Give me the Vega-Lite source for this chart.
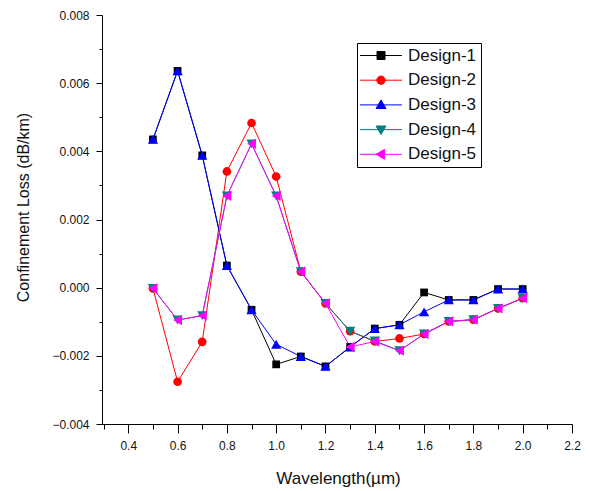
{
  "$schema": "https://vega.github.io/schema/vega-lite/v6.json",
  "width": 470,
  "height": 409,
  "autosize": "none",
  "padding": {"left": 102, "top": 15, "right": 18, "bottom": 67},
  "background": "white",
  "config": {
    "view": {"stroke": null},
    "font": "Liberation Sans",
    "axis": {
      "domainColor": "black",
      "domainWidth": 1,
      "tickColor": "black",
      "tickWidth": 1,
      "labelFont": "Liberation Sans",
      "labelFontSize": 12,
      "labelColor": "#111",
      "titleFont": "Liberation Sans",
      "titleFontSize": 16,
      "titleFontWeight": "normal",
      "titleColor": "#111",
      "grid": false
    }
  },
  "data": {
    "values": [
      {"x": 0.5, "y": 0.00435, "s": "Design-1"},
      {"x": 0.6, "y": 0.00636, "s": "Design-1"},
      {"x": 0.7, "y": 0.00388, "s": "Design-1"},
      {"x": 0.8, "y": 0.00065, "s": "Design-1"},
      {"x": 0.9, "y": -0.00065, "s": "Design-1"},
      {"x": 1.0, "y": -0.00225, "s": "Design-1"},
      {"x": 1.1, "y": -0.00202, "s": "Design-1"},
      {"x": 1.2, "y": -0.00231, "s": "Design-1"},
      {"x": 1.3, "y": -0.00174, "s": "Design-1"},
      {"x": 1.4, "y": -0.0012, "s": "Design-1"},
      {"x": 1.5, "y": -0.00109, "s": "Design-1"},
      {"x": 1.6, "y": -0.00014, "s": "Design-1"},
      {"x": 1.7, "y": -0.00036, "s": "Design-1"},
      {"x": 1.8, "y": -0.00036, "s": "Design-1"},
      {"x": 1.9, "y": -0.00004, "s": "Design-1"},
      {"x": 2.0, "y": -0.00004, "s": "Design-1"},

      {"x": 0.5, "y": -0.00002, "s": "Design-2"},
      {"x": 0.6, "y": -0.00276, "s": "Design-2"},
      {"x": 0.7, "y": -0.00159, "s": "Design-2"},
      {"x": 0.8, "y": 0.00341, "s": "Design-2"},
      {"x": 0.9, "y": 0.00483, "s": "Design-2"},
      {"x": 1.0, "y": 0.00326, "s": "Design-2"},
      {"x": 1.1, "y": 0.00047, "s": "Design-2"},
      {"x": 1.2, "y": -0.00046, "s": "Design-2"},
      {"x": 1.3, "y": -0.00128, "s": "Design-2"},
      {"x": 1.4, "y": -0.00158, "s": "Design-2"},
      {"x": 1.5, "y": -0.00149, "s": "Design-2"},
      {"x": 1.6, "y": -0.00136, "s": "Design-2"},
      {"x": 1.7, "y": -0.00099, "s": "Design-2"},
      {"x": 1.8, "y": -0.00094, "s": "Design-2"},
      {"x": 1.9, "y": -0.00061, "s": "Design-2"},
      {"x": 2.0, "y": -0.00031, "s": "Design-2"},

      {"x": 0.5, "y": 0.00435, "s": "Design-3"},
      {"x": 0.6, "y": 0.00636, "s": "Design-3"},
      {"x": 0.7, "y": 0.00388, "s": "Design-3"},
      {"x": 0.8, "y": 0.00065, "s": "Design-3"},
      {"x": 0.9, "y": -0.00065, "s": "Design-3"},
      {"x": 1.0, "y": -0.00166, "s": "Design-3"},
      {"x": 1.1, "y": -0.00202, "s": "Design-3"},
      {"x": 1.2, "y": -0.00231, "s": "Design-3"},
      {"x": 1.3, "y": -0.00174, "s": "Design-3"},
      {"x": 1.4, "y": -0.0012, "s": "Design-3"},
      {"x": 1.5, "y": -0.00109, "s": "Design-3"},
      {"x": 1.6, "y": -0.00071, "s": "Design-3"},
      {"x": 1.7, "y": -0.00036, "s": "Design-3"},
      {"x": 1.8, "y": -0.00036, "s": "Design-3"},
      {"x": 1.9, "y": -0.00004, "s": "Design-3"},
      {"x": 2.0, "y": -0.00004, "s": "Design-3"},

      {"x": 0.5, "y": -0.00002, "s": "Design-4"},
      {"x": 0.6, "y": -0.00095, "s": "Design-4"},
      {"x": 0.7, "y": -0.00082, "s": "Design-4"},
      {"x": 0.8, "y": 0.00269, "s": "Design-4"},
      {"x": 0.9, "y": 0.00422, "s": "Design-4"},
      {"x": 1.0, "y": 0.00269, "s": "Design-4"},
      {"x": 1.1, "y": 0.00047, "s": "Design-4"},
      {"x": 1.2, "y": -0.00046, "s": "Design-4"},
      {"x": 1.3, "y": -0.00128, "s": "Design-4"},
      {"x": 1.4, "y": -0.00156, "s": "Design-4"},
      {"x": 1.5, "y": -0.00185, "s": "Design-4"},
      {"x": 1.6, "y": -0.00136, "s": "Design-4"},
      {"x": 1.7, "y": -0.00099, "s": "Design-4"},
      {"x": 1.8, "y": -0.00094, "s": "Design-4"},
      {"x": 1.9, "y": -0.00061, "s": "Design-4"},
      {"x": 2.0, "y": -0.00031, "s": "Design-4"},

      {"x": 0.5, "y": -0.00002, "s": "Design-5"},
      {"x": 0.6, "y": -0.00095, "s": "Design-5"},
      {"x": 0.7, "y": -0.00082, "s": "Design-5"},
      {"x": 0.8, "y": 0.00269, "s": "Design-5"},
      {"x": 0.9, "y": 0.00422, "s": "Design-5"},
      {"x": 1.0, "y": 0.00269, "s": "Design-5"},
      {"x": 1.1, "y": 0.00047, "s": "Design-5"},
      {"x": 1.2, "y": -0.00046, "s": "Design-5"},
      {"x": 1.3, "y": -0.00174, "s": "Design-5"},
      {"x": 1.4, "y": -0.00158, "s": "Design-5"},
      {"x": 1.5, "y": -0.00185, "s": "Design-5"},
      {"x": 1.6, "y": -0.00136, "s": "Design-5"},
      {"x": 1.7, "y": -0.00099, "s": "Design-5"},
      {"x": 1.8, "y": -0.00094, "s": "Design-5"},
      {"x": 1.9, "y": -0.00061, "s": "Design-5"},
      {"x": 2.0, "y": -0.00031, "s": "Design-5"}
    ]
  },
  "layer": [
    {
      "encoding": {
        "x": {
          "field": "x", "type": "quantitative",
          "scale": {"domain": [0.2934, 2.2], "nice": false, "zero": false},
          "axis": {
            "orient": "bottom",
            "values": [0.4, 0.6, 0.8, 1.0, 1.2, 1.4, 1.6, 1.8, 2.0, 2.2],
            "format": ".1f",
            "tickSize": 9,
            "labelPadding": 7,
            "title": "Wavelength(µm)",
            "titleFontSize": 17,
            "titleX": 236,
            "titleY": 54,
            "titleAlign": "center",
            "titleBaseline": "middle",
            "labelFlush": false
          }
        },
        "y": {
          "field": "y", "type": "quantitative",
          "scale": {"domain": [-0.004, 0.008], "nice": false, "zero": false},
          "axis": {
            "orient": "left",
            "values": [-0.004, -0.002, 0, 0.002, 0.004, 0.006, 0.008],
            "format": ".3f",
            "tickSize": 6,
            "labelPadding": 7,
            "title": "Confinement Loss (dB/km)",
            "titleFontSize": 16,
            "titleAngle": -90,
            "titleX": -79,
            "titleY": 192,
            "titleAlign": "center",
            "titleBaseline": "middle",
            "labelFlush": false
          }
        },
        "color": {
          "field": "s", "type": "nominal",
          "scale": {
            "domain": ["Design-1", "Design-2", "Design-3", "Design-4", "Design-5"],
            "range": ["#000000", "#FF0000", "#0000FF", "#008080", "#FF00FF"]
          },
          "legend": {
            "title": null,
            "orient": "none",
            "legendX": 255,
            "legendY": 28,
            "strokeColor": "black",
            "fillColor": "white",
            "padding": 4,
            "labelFont": "Liberation Sans",
            "labelFontSize": 17,
            "labelColor": "#111",
            "labelOffset": 30,
            "symbolSize": 256,
            "symbolStrokeWidth": 1,
            "rowPadding": 6.7,
            "encode": {
              "symbols": {
                "update": {
                  "shape": {"signal": "datum.value == 'Design-1' ? 'M-1.19,0H4.06M0.94,-0.5H1.94V0.5H0.94Z' : datum.value == 'Design-2' ? 'M-1.19,0H4.06M0.92,0A0.52,0.52 0 1,0 1.96,0A0.52,0.52 0 1,0 0.92,0Z' : datum.value == 'Design-3' ? 'M-1.19,0H4.06M1.44,-0.62L2.06,0.45H0.82Z' : datum.value == 'Design-4' ? 'M-1.19,0H4.06M1.44,0.62L2.06,-0.45H0.82Z' : 'M-1.19,0H4.06M0.82,0L1.89,-0.62V0.62Z'"},
                  "stroke": {"scale": "color", "field": "value"},
                  "fill": {"scale": "color", "field": "value"},
                  "strokeWidth": {"value": 1},
                  "opacity": {"value": 1}
                }
              }
            }
          }
        }
      },
      "layer": [
        {"mark": {"type": "line", "strokeWidth": 1}},
        {"transform": [{"filter": "datum.s == 'Design-1'"}], "mark": {"type": "point", "filled": true, "opacity": 1, "shape": "square", "size": 60}},
        {"transform": [{"filter": "datum.s == 'Design-2'"}], "mark": {"type": "point", "filled": true, "opacity": 1, "shape": "circle", "size": 75}},
        {"transform": [{"filter": "datum.s == 'Design-3'"}], "mark": {"type": "point", "filled": true, "opacity": 1, "shape": "triangle-up", "size": 105}},
        {"transform": [{"filter": "datum.s == 'Design-4'"}], "mark": {"type": "point", "filled": true, "opacity": 1, "shape": "triangle-down", "size": 105}},
        {"transform": [{"filter": "datum.s == 'Design-5'"}], "mark": {"type": "point", "filled": true, "opacity": 1, "shape": "triangle-left", "size": 105}}
      ]
    },
    {
      "mark": {"type": "point", "opacity": 0},
      "encoding": {
        "x": {
          "field": "x", "type": "quantitative",
          "scale": {"domain": [0.2934, 2.2], "nice": false, "zero": false},
          "axis": {
            "orient": "bottom",
            "values": [0.3, 0.5, 0.7, 0.9, 1.1, 1.3, 1.5, 1.7, 1.9, 2.1],
            "labels": false,
            "domain": false,
            "tickSize": 5,
            "title": null
          }
        },
        "y": {
          "field": "y", "type": "quantitative",
          "scale": {"domain": [-0.004, 0.008], "nice": false, "zero": false},
          "axis": {
            "orient": "left",
            "values": [-0.003, -0.001, 0.001, 0.003, 0.005, 0.007],
            "labels": false,
            "domain": false,
            "tickSize": 3,
            "title": null
          }
        }
      }
    }
  ],
  "resolve": {"axis": {"x": "independent", "y": "independent"}}
}
